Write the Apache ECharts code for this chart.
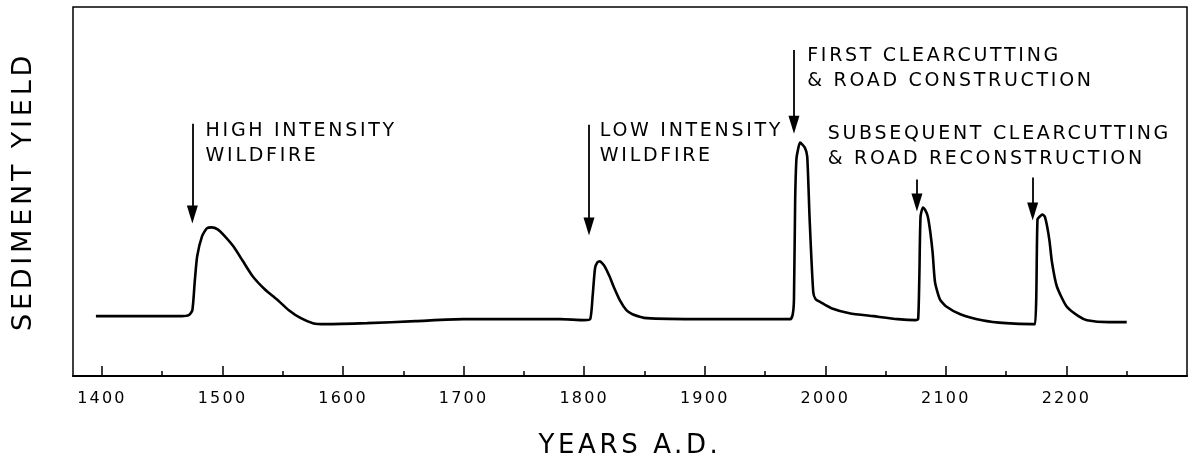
<!DOCTYPE html>
<html>
<head>
<meta charset="utf-8">
<script src="https://cdn.jsdelivr.net/npm/echarts@6/dist/echarts.min.js"></script>
<style>
html,body{margin:0;padding:0;background:#fff;}
#chart{width:1193px;height:464px;}
</style>
</head>
<body>
<div id="chart"></div>
<script>
// curve (y is an arbitrary yield scale)
var years = [1395,1440,1466,1472,1475,1477,1479,1483,1487,1491,1496,1502,1509,1517,1525,1535,1545,1555,1565,1575,1585,1620,1660,1700,1740,1780,1800,
  1805,1807,1809,1811,1813,1815,1817,1821,1825,1830,1835,1840,1852,1900,1950,
  1971,1973,1974,1975,1976,1977,1979,1983,1985,1987,1990,1992,1996,2005,2020,2040,2060,
  2075,2077,2078,2079,2081,2083,2085,2087,2089,2091,2095,2100,2112,2130,2150,
  2172,2174,2175,2176,2178,2180,2182,2184,2186,2188,2192,2200,2210,2217,2235,2250];
var sediment = [60,60,60,61,66,95,120,140,148,149,147,140,130,115,100,87,77,66,58,53,52,53,55,57,57,57,56,
  57,80,108,114,115,113,110,100,88,75,66,62,58,57,57,
  57,62,77,177,217,225,234,229,220,157,84,77,74,68,63,60,57,
  56,57,100,160,169,166,160,145,124,94,77,70,62,56,53,
  52,52,80,157,160,162,160,150,135,114,90,70,60,56,54,54];

var majorTicks = [1400,1500,1600,1700,1800,1900,2000,2100,2200];
var minorTicks = [1450,1550,1650,1750,1850,1950,2050,2150,2250];

// events: [year, arrow top, arrow tip]
var arrowX = [1475,1804,1974,2076,2172];
var arrowTop = [253,252,327,197,199];
var arrowTip = [162,150,252,174,165];

var notes = ['HIGH INTENSITY\nWILDFIRE','LOW INTENSITY\nWILDFIRE','FIRST CLEARCUTTING\n& ROAD CONSTRUCTION','SUBSEQUENT CLEARCUTTING\n& ROAD RECONSTRUCTION'];
var noteX = [1486,1813,1985,2002];
var noteY = [258,258,333,255];

// the hand lettering is widely spaced, canvas can do that
var _fillText = CanvasRenderingContext2D.prototype.fillText;
CanvasRenderingContext2D.prototype.fillText = function () {
  var m = /(\d+(\.\d+)?)px/.exec(this.font);
  if (m && 'letterSpacing' in this) this.letterSpacing = (parseFloat(m[1]) * 0.14).toFixed(1) + 'px';
  return _fillText.apply(this, arguments);
};

var font = 'DejaVu Sans';
var ink = '#000';

var myChart = echarts.init(document.getElementById('chart'), null, {renderer: 'canvas'});

var arrows = [];
for (var i = 0; i < arrowX.length; i++) {
  arrows.push([{coord: [arrowX[i], arrowTop[i]]}, {coord: [arrowX[i], arrowTip[i]]}]);
}
var labels = [];
for (var j = 0; j < notes.length; j++) {
  labels.push({coord: [noteX[j], noteY[j]], value: notes[j]});
}

myChart.setOption({
  animation: false,
  grid: {
    left: 73, right: 6, top: 7, bottom: 87,
    show: true, borderColor: ink, borderWidth: 1.5
  },
  xAxis: [{
    type: 'value', min: 1376, max: 2300,
    name: 'YEARS A.D.', nameLocation: 'middle', nameGap: 57,
    nameTextStyle: {fontFamily: font, fontSize: 26, color: ink},
    axisLine: {show: true, onZero: false, lineStyle: {color: ink, width: 2}},
    axisTick: {show: true, inside: true, length: 10, customValues: majorTicks, lineStyle: {color: ink, width: 1.5}},
    axisLabel: {
      show: true, customValues: majorTicks, margin: 15, fontFamily: font, fontSize: 16, color: ink,
      formatter: function (v) { return String(v); }
    },
    splitLine: {show: false}
  }, {
    // half-century ticks
    type: 'value', min: 1376, max: 2300, position: 'bottom',
    axisLine: {show: false},
    axisTick: {show: true, inside: true, length: 5, customValues: minorTicks, lineStyle: {color: ink, width: 1.5}},
    axisLabel: {show: false},
    splitLine: {show: false}
  }],
  yAxis: {
    type: 'value', min: 0, max: 370,
    name: 'SEDIMENT YIELD', nameLocation: 'middle', nameGap: 36, nameRotate: 90,
    nameTextStyle: {fontFamily: font, fontSize: 27, color: ink},
    axisLine: {show: false}, axisTick: {show: false}, axisLabel: {show: false}, splitLine: {show: false}
  },
  series: [{
    type: 'line',
    xAxisIndex: 0,
    data: years.map(function (y, k) { return [y, sediment[k]]; }),
    showSymbol: false,
    smooth: 0.2,
    lineStyle: {color: ink, width: 2.6},
    silent: true,
    markLine: {
      silent: true,
      symbol: ['none', 'triangle'],
      symbolSize: [11, 18],
      lineStyle: {color: ink, width: 1.8, type: 'solid'},
      label: {show: false},
      data: arrows
    },
    markPoint: {
      silent: true,
      symbol: 'circle',
      symbolSize: 0,
      label: {
        show: true, position: [0, 0], align: 'left', verticalAlign: 'top',
        fontFamily: font, fontSize: 19, lineHeight: 25, color: ink,
        formatter: function (p) { return p.value; }
      },
      data: labels
    }
  }]
});
</script>
</body>
</html>
